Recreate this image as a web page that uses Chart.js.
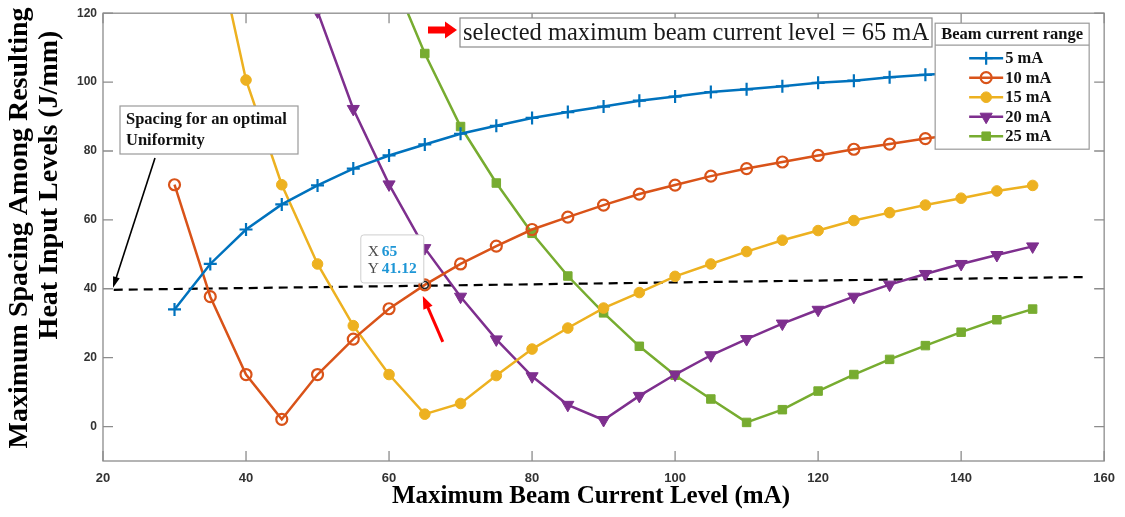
<!DOCTYPE html>
<html><head><meta charset="utf-8">
<script src="https://cdn.jsdelivr.net/npm/chart.js@4.4.1/dist/chart.umd.min.js"></script>
<style>html,body{margin:0;padding:0;background:#fff;overflow:hidden}</style>
</head><body>
<canvas id="c" width="1125" height="517"></canvas>
<script>
// ---------- data ----------
const xValues = [30,35,40,45,50,55,60,65,70,75,80,85,90,95,100,105,110,115,120,125,130,135,140,145,150];
const mA5  = [34,47.2,57.2,64.5,70,74.9,78.7,81.9,85,87.3,89.6,91.3,92.9,94.6,95.8,97.1,97.9,98.8,99.8,100.4,101.4,102.1,102.7,103.2,103.8];
const mA10 = [70.2,37.7,15.1,2.1,15.1,25.4,34.2,41.12,47.2,52.4,57.2,60.8,64.3,67.5,70.1,72.7,74.9,76.8,78.7,80.5,82,83.6,84.9,86.2,87.4];
const mA15 = [205,148,100.6,70.2,47.2,29.3,15.1,3.6,6.7,14.8,22.5,28.6,34.4,38.9,43.6,47.2,50.8,54.1,56.9,59.8,62.1,64.3,66.3,68.4,70];
const mA20 = [null,null,195,152,120.5,92.2,70.3,51.8,37.7,25.3,14.6,6.3,1.9,8.9,15.1,20.7,25.4,29.9,33.9,37.7,41.2,44.3,47.2,49.8,52.3];
const mA25 = [null,null,null,null,null,165,133,108.3,87.1,70.7,56.1,43.7,33,23.3,14.9,8,1.2,4.9,10.3,15.1,19.5,23.5,27.4,31,34.1];
const seriesNames = ['5 mA','10 mA','15 mA','20 mA','25 mA'];
const uniformX = [21.5,157];
const uniformY = [39.7,43.4];
const selectedPoint = {x:65, y:41.12};
const xTicks = [20,40,60,80,100,120,140,160];
const yTicks = [0,20,40,60,80,100,120];
const xTitle = 'Maximum Beam Current Level (mA)';
const yTitleLines = ['Maximum Spacing Among Resulting','Heat Input Levels (J/mm)'];
const legendTitle = 'Beam current range';
const selectedNote = 'selected maximum beam current level = 65 mA';
const uniformNote = ['Spacing for an optimal','Uniformity'];

// ---------- styles ----------
const colors = ['#0072BD','#D95319','#EDB120','#7E2F8E','#77AC30'];
const markers = [
  {pointStyle:'cross', radius:6.5, bg:'#0072BD', bw:2.2, rot:0},
  {pointStyle:'circle', radius:5.5, bg:'rgba(0,0,0,0)', bw:2.2, rot:0},
  {pointStyle:'circle', radius:5.3, bg:'#EDB120', bw:1, rot:0},
  {pointStyle:'triangle', radius:7, bg:'#7E2F8E', bw:1, rot:180},
  {pointStyle:'rect', radius:6, bg:'#77AC30', bw:1, rot:0}
];
const allSeries = [mA5,mA10,mA15,mA20,mA25];
const datasets = allSeries.map((s,i)=>({
  label: seriesNames[i],
  data: xValues.map((x,j)=>({x:x, y:s[j]})),
  borderColor: colors[i], backgroundColor: markers[i].bg,
  borderWidth: 2.5, tension: 0,
  pointStyle: markers[i].pointStyle, pointRadius: markers[i].radius,
  pointRotation: markers[i].rot,
  pointBorderColor: colors[i], pointBackgroundColor: markers[i].bg,
  pointBorderWidth: markers[i].bw, spanGaps:false
}));
datasets.push({
  label:'uniform', data: uniformX.map((x,i)=>({x:x,y:uniformY[i]})),
  borderColor:'#000', borderWidth:2.2, borderDash:[9,6], pointRadius:0, tension:0
});

function arrow(ctx,x1,y1,x2,y2,color,lw,hl,hw){
  const a=Math.atan2(y2-y1,x2-x1);
  ctx.save();
  ctx.strokeStyle=color; ctx.fillStyle=color; ctx.lineWidth=lw;
  ctx.beginPath(); ctx.moveTo(x1,y1);
  ctx.lineTo(x2-Math.cos(a)*hl*0.8,y2-Math.sin(a)*hl*0.8); ctx.stroke();
  ctx.beginPath(); ctx.moveTo(x2,y2);
  ctx.lineTo(x2-Math.cos(a)*hl+Math.sin(a)*hw/2, y2-Math.sin(a)*hl-Math.cos(a)*hw/2);
  ctx.lineTo(x2-Math.cos(a)*hl-Math.sin(a)*hw/2, y2-Math.sin(a)*hl+Math.cos(a)*hw/2);
  ctx.closePath(); ctx.fill();
  ctx.restore();
}

const deco = {
  id:'deco',
  afterDatasetsDraw(chart){
    const ctx=chart.ctx, xs=chart.scales.x, ys=chart.scales.y;
    const {left,right,top,bottom}=chart.chartArea;
    ctx.save();
    // axes box + inward ticks
    ctx.strokeStyle='#8c8c8c'; ctx.lineWidth=1.3;
    ctx.strokeRect(left,top,right-left,bottom-top);
    ctx.beginPath();
    xTicks.forEach(v=>{const p=xs.getPixelForValue(v);
      ctx.moveTo(p,bottom); ctx.lineTo(p,bottom-10); ctx.moveTo(p,top); ctx.lineTo(p,top+10);});
    yTicks.forEach(v=>{const p=ys.getPixelForValue(v);
      ctx.moveTo(left,p); ctx.lineTo(left+10,p); ctx.moveTo(right,p); ctx.lineTo(right-10,p);});
    ctx.stroke();

    // axis titles
    ctx.fillStyle='#000'; ctx.textAlign='center'; ctx.textBaseline='middle';
    ctx.font='bold 25px "Liberation Serif"';
    ctx.fillText(xTitle,591,497);
    ctx.font='bold 28px "Liberation Serif"';
    ctx.save(); ctx.translate(20,228); ctx.rotate(-Math.PI/2); ctx.fillText(yTitleLines[0],0,0); ctx.restore();
    ctx.save(); ctx.translate(50,185); ctx.rotate(-Math.PI/2); ctx.fillText(yTitleLines[1],0,0); ctx.restore();

    // legend
    const lx=right-169, ly=top+10, lw=154, lh=126;
    ctx.fillStyle='#fff'; ctx.fillRect(lx,ly,lw,lh);
    ctx.strokeStyle='#9a9a9a'; ctx.lineWidth=1.2; ctx.strokeRect(lx,ly,lw,lh);
    ctx.beginPath(); ctx.moveTo(lx,ly+22); ctx.lineTo(lx+lw,ly+22); ctx.stroke();
    ctx.fillStyle='#111'; ctx.font='bold 16.5px "Liberation Serif"';
    ctx.textAlign='center'; ctx.fillText(legendTitle,lx+lw/2,ly+11.5);
    ctx.textAlign='left';
    seriesNames.forEach((n,i)=>{
      const yy=ly+35+i*19.5;
      ctx.strokeStyle=colors[i]; ctx.lineWidth=2.5;
      ctx.beginPath(); ctx.moveTo(lx+34,yy); ctx.lineTo(lx+68,yy); ctx.stroke();
      ctx.fillStyle=markers[i].bg; ctx.lineWidth=markers[i].bw;
      Chart.helpers.drawPoint(ctx,{pointStyle:markers[i].pointStyle,radius:markers[i].radius,rotation:markers[i].rot,borderWidth:markers[i].bw},lx+51,yy);
      ctx.fillStyle='#111'; ctx.fillText(n,lx+70,yy+1);
    });

    // selected note
    ctx.fillStyle='#fff'; ctx.fillRect(460,18,472,29);
    ctx.strokeStyle='#8c8c8c'; ctx.lineWidth=1.2; ctx.strokeRect(460,18,472,29);
    ctx.fillStyle='#1a1a1a'; ctx.font='24.5px "Liberation Serif"'; ctx.textAlign='center';
    ctx.fillText(selectedNote,696,33.5);
    ctx.fillStyle='#ff0000';
    ctx.fillRect(428,26.5,19,7);
    ctx.beginPath(); ctx.moveTo(445,21.5); ctx.lineTo(457,30); ctx.lineTo(445,38.5); ctx.closePath(); ctx.fill();

    // uniformity note
    ctx.fillStyle='#fff'; ctx.fillRect(120,106,178,48);
    ctx.strokeStyle='#9a9a9a'; ctx.strokeRect(120,106,178,48);
    ctx.fillStyle='#111'; ctx.font='bold 16.5px "Liberation Serif"'; ctx.textAlign='left';
    ctx.fillText(uniformNote[0],126,120); ctx.fillText(uniformNote[1],126,141);
    arrow(ctx,155,158,xs.getPixelForValue(21.4),ys.getPixelForValue(40.3),'#000',1.6,11,7);

    // datatip
    const px=xs.getPixelForValue(selectedPoint.x), py=ys.getPixelForValue(selectedPoint.y);
    ctx.beginPath(); ctx.arc(px,py,3.5,0,Math.PI*2); ctx.strokeStyle='#222'; ctx.lineWidth=1.5; ctx.stroke();
    const bx=px-64, by=py-50;
    ctx.fillStyle='#fff'; ctx.strokeStyle='#cfcfcf'; ctx.lineWidth=1;
    ctx.beginPath(); ctx.roundRect(bx,by,63,48,3); ctx.fill(); ctx.stroke();
    ctx.textAlign='left';
    ctx.font='15.5px "Liberation Serif"'; ctx.fillStyle='#4a4a4a';
    ctx.fillText('X',bx+7,by+17); ctx.fillText('Y',bx+7,by+34);
    ctx.font='bold 15.5px "Liberation Serif"'; ctx.fillStyle='#1e96d6';
    ctx.fillText(String(selectedPoint.x),bx+21,by+17); ctx.fillText(String(selectedPoint.y),bx+21,by+34);
    arrow(ctx,px+18,py+57,px-2,py+11,'#ff0000',3,13,10);
    ctx.restore();
  }
};

new Chart(document.getElementById('c'),{
  type:'line',
  data:{datasets:datasets},
  options:{
    responsive:false, animation:false, devicePixelRatio:1,
    layout:{padding:{top:12,right:14,left:0,bottom:0}},
    plugins:{legend:{display:false},tooltip:{enabled:false}},
    scales:{
      x:{type:'linear',min:20,max:160,
        grid:{display:false,drawTicks:false},border:{display:false},
        afterBuildTicks:s=>{s.ticks=xTicks.map(v=>({value:v}));},
        afterFit:s=>{s.height=56;},
        ticks:{autoSkip:false,maxRotation:0,padding:10,color:'#333',font:{family:'Liberation Sans',size:13,weight:'bold'}}},
      y:{type:'linear',min:-10,max:120,
        grid:{display:false,drawTicks:false},border:{display:false},
        afterBuildTicks:s=>{s.ticks=yTicks.map(v=>({value:v}));},
        afterFit:s=>{s.width=103;},
        ticks:{autoSkip:false,padding:6,color:'#333',font:{family:'Liberation Sans',size:12,weight:'bold'}}}
    }
  },
  plugins:[deco]
});
</script>
</body></html>
